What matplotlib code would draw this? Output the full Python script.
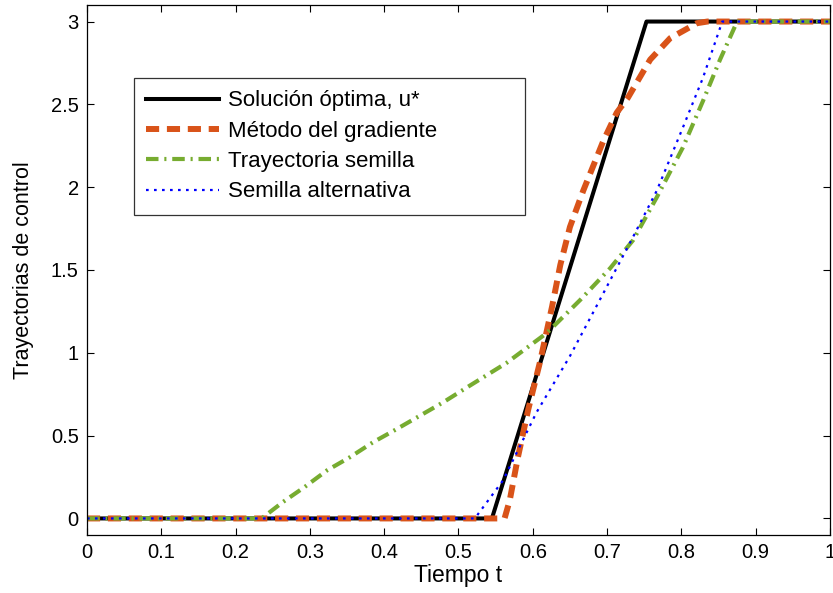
import matplotlib
matplotlib.use("Agg")
import matplotlib.pyplot as plt

plt.rcParams['font.family'] = ['Liberation Sans', 'DejaVu Sans']

# optimal control (black)
t_opt = [0, 0.545, 0.753, 1.0]
u_opt = [0, 0, 3, 3]

# gradient method (orange dashed)
t_grad = [0, 0.562, 0.569, 0.580, 0.594, 0.610, 0.626, 0.637, 0.650, 0.668,
          0.695, 0.713, 0.728, 0.758, 0.785, 0.821, 0.835, 1.0]
u_grad = [0, 0, 0.11, 0.37, 0.66, 0.95, 1.28, 1.53, 1.76, 1.98,
          2.28, 2.45, 2.54, 2.77, 2.90, 2.99, 3, 3]

# seed trajectory (green dash-dot)
t_seed = [0, 0.235, 0.264, 0.293, 0.323, 0.354, 0.385, 0.417, 0.448, 0.479,
          0.511, 0.565, 0.619, 0.664, 0.704, 0.735, 0.767, 0.802, 0.829,
          0.852, 0.875, 1.0]
u_seed = [0, 0, 0.10, 0.19, 0.29, 0.37, 0.46, 0.54, 0.62, 0.70,
          0.79, 0.94, 1.12, 1.32, 1.51, 1.68, 1.94, 2.24, 2.52,
          2.77, 3, 3]

# alternative seed (blue dotted)
t_alt = [0, 0.522, 0.56, 0.605, 0.65, 0.695, 0.735, 0.767, 0.802, 0.829, 0.855, 1.0]
u_alt = [0, 0, 0.23, 0.64, 0.98, 1.36, 1.70, 1.98, 2.36, 2.66, 3, 3]

labels = ["Solución óptima, u*", "Método del gradiente",
          "Trayectoria semilla", "Semilla alternativa"]
xticks = [0, 0.1, 0.2, 0.3, 0.4, 0.5, 0.6, 0.7, 0.8, 0.9, 1]
yticks = [0, 0.5, 1, 1.5, 2, 2.5, 3]

fig = plt.figure(figsize=(8.33, 5.93), dpi=100)
ax = fig.add_axes([0.1044, 0.0978, 0.892, 0.8938])

ax.plot(t_opt, u_opt, color='black', lw=2.9, label=labels[0])
ax.plot(t_grad, u_grad, color='#D95319', lw=4.3, dashes=(2.2, 1.3), label=labels[1])
ax.plot(t_seed, u_seed, color='#77AC30', lw=3.0, dashes=(3.0, 1.4, 0.5, 1.4), label=labels[2])
ax.plot(t_alt, u_alt, color='blue', lw=1.6, dashes=(1.2, 2.4), label=labels[3])

ax.set_xlim(0, 1)
ax.set_ylim(-0.1, 3.1)
ax.set_xticks(xticks)
ax.set_xticklabels([f"{v:g}" for v in xticks])
ax.set_yticks(yticks)
ax.set_yticklabels([f"{v:g}" for v in yticks])
ax.tick_params(direction='in', length=5, width=0.8, top=True, right=True,
               labelsize=14.5, pad=6)
for s in ax.spines.values():
    s.set_linewidth(0.9)

ax.set_xlabel("Tiempo t", fontsize=16.5, labelpad=1)
ax.set_ylabel("Trayectorias de control", fontsize=15.5, labelpad=12)

leg = ax.legend(loc='upper left', bbox_to_anchor=(0.063, 0.606, 0.5265, 0.256),
                mode='expand', fontsize=16,
                handlelength=3.3, frameon=True, fancybox=False, borderpad=0.55,
                labelspacing=0.42, handletextpad=0.4, borderaxespad=0)
leg.get_frame().set_edgecolor('black')
leg.get_frame().set_linewidth(0.9)

fig.savefig("out.png", dpi=100)
